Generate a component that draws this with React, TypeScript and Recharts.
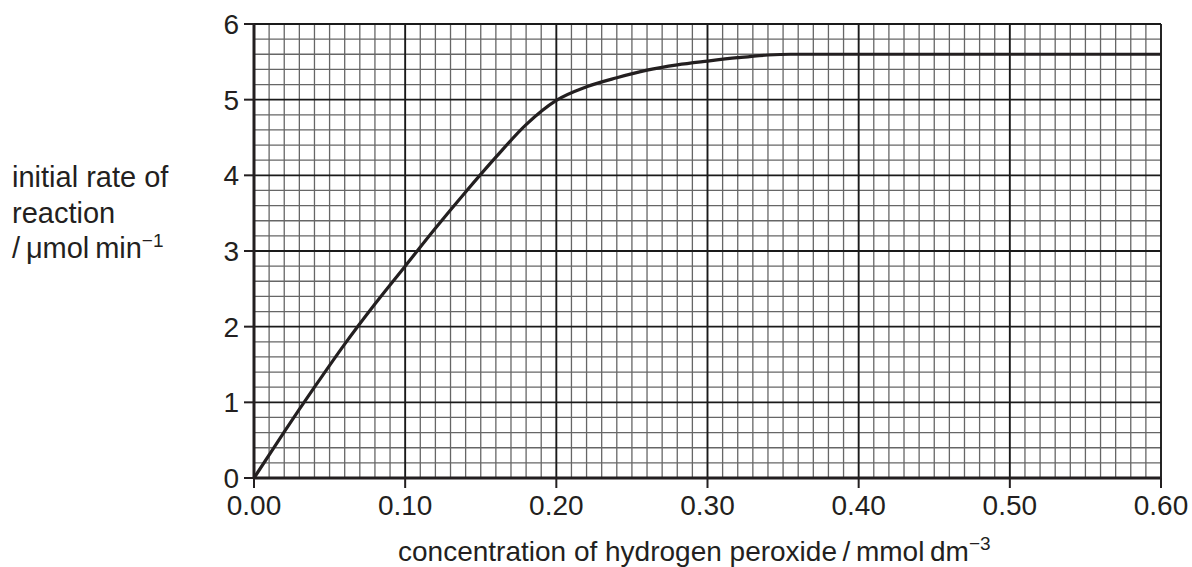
import React from "react";
import { LineChart, Line, XAxis, YAxis, ReferenceLine } from "recharts";

// hydrogen peroxide concentration / mmol dm-3
const concentration = [
  0, 0.02, 0.04, 0.06, 0.08, 0.1, 0.12, 0.14, 0.16, 0.18, 0.2, 0.22, 0.24, 0.26,
  0.28, 0.3, 0.32, 0.34, 0.355, 0.4, 0.5, 0.6,
];
// initial rate of reaction / umol min-1
const rate = [
  0, 0.61, 1.2, 1.77, 2.3, 2.8, 3.3, 3.78, 4.24, 4.67, 4.99, 5.17, 5.29, 5.39,
  5.46, 5.51, 5.555, 5.59, 5.6, 5.6, 5.6, 5.6,
];

const xTicks = [0, 0.1, 0.2, 0.3, 0.4, 0.5, 0.6];
const yTicks = [0, 1, 2, 3, 4, 5, 6];

const data = concentration.map((c, i) => ({ c, r: rate[i] }));

// graph paper: minor every 0.01 / 0.2, major on the ticks
const xMinor: number[] = [];
for (let k = 1; k < 60; k++) if (k % 10 !== 0) xMinor.push(k / 100);
const yMinor: number[] = [];
for (let k = 1; k < 30; k++) if (k % 5 !== 0) yMinor.push(k / 5);

const FONT = '"Liberation Sans", Arial, Helvetica, sans-serif';
const INK = "#231f20";

export default function App() {
  return (
    <div style={{ position: "absolute", left: 0, top: 0, width: 1192, height: 567, background: "#fff" }}>
      <LineChart
        width={1192}
        height={567}
        data={data}
        margin={{ top: 24, right: 31, left: 0, bottom: 0 }}
        style={{ fontFamily: FONT }}
      >
        {xMinor.map((v) => (
          <ReferenceLine key={"xm" + v} x={v} stroke="#666" strokeWidth={1.3} />
        ))}
        {yMinor.map((v) => (
          <ReferenceLine key={"ym" + v} y={v} stroke="#666" strokeWidth={1.3} />
        ))}
        {xTicks.slice(1).map((v) => (
          <ReferenceLine key={"xM" + v} x={v} stroke="#1a1a1a" strokeWidth={1.9} />
        ))}
        {yTicks.slice(1).map((v) => (
          <ReferenceLine key={"yM" + v} y={v} stroke="#1a1a1a" strokeWidth={1.9} />
        ))}
        <XAxis
          dataKey="c"
          type="number"
          domain={[0, 0.6]}
          ticks={xTicks}
          tickFormatter={(v: number) => v.toFixed(2)}
          height={89}
          tickSize={10}
          tickMargin={7}
          axisLine={{ stroke: INK, strokeWidth: 3 }}
          tickLine={{ stroke: INK, strokeWidth: 2 }}
          tick={{ fill: INK, fontSize: 28, fontFamily: FONT }}
          interval={0}
        />
        <YAxis
          type="number"
          domain={[0, 6]}
          ticks={yTicks}
          width={254}
          tickSize={10}
          tickMargin={5}
          axisLine={{ stroke: INK, strokeWidth: 3 }}
          tickLine={{ stroke: INK, strokeWidth: 2 }}
          tick={{ fill: INK, fontSize: 28, fontFamily: FONT }}
          interval={0}
        />
        <Line
          dataKey="r"
          type="monotone"
          stroke={INK}
          strokeWidth={3.2}
          dot={false}
          activeDot={false}
          isAnimationActive={false}
        />
      </LineChart>
      <svg
        width={1192}
        height={567}
        style={{ position: "absolute", left: 0, top: 0, pointerEvents: "none" }}
      >
        <g fontFamily={FONT} fill={INK}>
          <text x={12} y={187} fontSize={29}>initial rate of</text>
          <text x={12} y={223} fontSize={29}>reaction</text>
          <text x={12} y={258} fontSize={29}>
            /{"\u2009"}μmol{"\u2009"}min
            <tspan fontSize={19} dy={-11}>−1</tspan>
          </text>
          <text x={398} y={561} fontSize={28}>
            concentration of hydrogen peroxide{"\u2009"}/{"\u2009"}mmol{"\u2009"}dm
            <tspan fontSize={19} dy={-11}>−3</tspan>
          </text>
        </g>
      </svg>
    </div>
  );
}
